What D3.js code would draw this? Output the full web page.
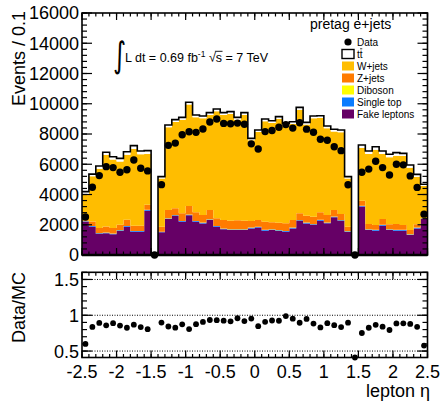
<!DOCTYPE html>
<html><head><meta charset="utf-8">
<script src="https://cdn.jsdelivr.net/npm/d3@7"></script>
<style>body{margin:0;background:#fff} svg{display:block}</style>
</head><body>
<svg id="c" width="442" height="405"></svg>
<script>
// ---- data (50 bins of lepton eta, width 0.1, from -2.5 to 2.5) ----
const etaEdges = d3.range(51).map(i => +(-2.5 + 0.1 * i).toFixed(2));
const fakeLeptons = [2200,1870,1390,1430,1370,1590,1870,1540,1540,2930, 0,
  1500,2380,2580,2200,2620,2200,2090,2310,1870,1700,1650,1650,1650,1760,1810,1610,1650,1590,1540,1760,2250,2090,1985,2270,2095,2490,2250,1540,
  20, 3200,1650,1610,1940,1650,1610,1610,1320,1760,2380];
const singleTop = [25,40,40,40,40,40,40,40,40,40, 0,
  30,40,40,40,40,40,40,40,40,40,40,40,40,40,40,40,40,40,40,40,40,40,40,40,40,40,40,30,
  0, 40,40,40,40,40,40,40,40,40,25];
const diboson = [10,15,15,15,15,15,15,15,15,15, 0,
  15,15,15,15,15,15,15,15,15,15,15,15,15,15,15,15,15,15,15,15,15,15,15,15,15,15,15,15,
  0, 15,15,15,15,15,15,15,15,15,10];
const zJets = [60,290,340,400,360,350,400,340,340,330, 0,
  315,540,450,500,565,565,500,610,500,560,565,595,565,435,450,540,455,495,500,500,450,455,495,495,495,430,405,275,
  0, 335,345,320,385,325,385,320,275,215,35];
const wJets = [1745,2985,3915,4725,4535,4195,4305,5075,4725,3365, 0,
  3200,5475,5715,6195,6710,6290,6395,6285,7075,6945,7060,6650,6990,5330,5810,6635,6570,6860,6475,6345,6855,6020,6505,6240,5735,5185,5405,3200,
  30, 3480,4630,4975,4300,4430,4520,4555,4120,3150,2110];
const ttbar = [150,150,180,180,180,200,200,220,220,220, 0,
  120,150,150,150,150,150,150,150,150,150,150,150,150,130,140,150,150,150,150,150,150,150,150,150,150,150,150,120,
  0, 200,200,200,200,200,200,180,180,150,120];
const dataCounts = [2510,4480,5250,5840,5780,5470,5640,6280,5740,5560, 0,
  4650,7250,7400,7950,8150,8110,8330,8790,8990,8700,8680,8720,8640,7350,7010,8160,8230,8450,8620,8390,8740,8320,8120,7650,7590,7160,6900,4640,
  0, 5470,5680,6200,5780,5290,6000,5960,5230,4470,2700];
const yTicks = [0,2000,4000,6000,8000,10000,12000,14000,16000];
const ratioTicks = [0.5,1,1.5];
const xTicks = [-2.5,-2,-1.5,-1,-0.5,0,0.5,1,1.5,2,2.5];
const xTickLabels = ["-2.5","-2","-1.5","-1","-0.5","0","0.5","1","1.5","2","2.5"];

const components = [
  {key:'fake', label:'Fake leptons', vals:fakeLeptons, color:'#660066'},
  {key:'st', label:'Single top', vals:singleTop, color:'#0a7cff'},
  {key:'db', label:'Diboson', vals:diboson, color:'#ffff00'},
  {key:'z', label:'Z+jets', vals:zJets, color:'#ff7b00'},
  {key:'w', label:'W+jets', vals:wJets, color:'#ffbd00'},
  {key:'tt', label:'tt', vals:ttbar, color:'#ffffff'}
];

const FONT = "'Liberation Sans', Arial, Helvetica, sans-serif";
const svg = d3.select('#c');
const X0 = 82, X1 = 427.5;
const x = d3.scaleLinear().domain([-2.5, 2.5]).range([X0, X1]);
const y = d3.scaleLinear().domain([0, 16000]).range([255, 13]);
const yr = d3.scaleLinear().domain([0.41, 1.6]).range([357.5, 272.3]);

const rows = etaEdges.slice(0, 50).map((e, i) => {
  const o = {lo: e, hi: etaEdges[i + 1], data: dataCounts[i]};
  components.forEach(c => o[c.key] = c.vals[i]);
  o.total = components.reduce((s, c) => s + c.vals[i], 0);
  return o;
});

const stack = d3.stack().keys(components.map(c => c.key))(rows);
const area = d3.area()
  .x((d, i) => x(etaEdges[i]))
  .y0(d => y(d[0])).y1(d => y(d[1]))
  .curve(d3.curveStepAfter);

const gMain = svg.append('g');
stack.forEach((layer, li) => {
  const pts = layer.map(d => [d[0], d[1]]);
  pts.push(pts[pts.length - 1]);
  gMain.append('path').attr('d', area(pts))
    .attr('fill', components[li].color).attr('stroke', 'none');
});
// total outline
const totPts = rows.map(r => r.total); totPts.push(totPts[totPts.length - 1]);
const line = d3.line().x((d, i) => x(etaEdges[i])).y(d => y(d)).curve(d3.curveStepAfter);
gMain.append('path').attr('d', line(totPts)).attr('fill', 'none')
  .attr('stroke', '#000').attr('stroke-width', 1.6);

// ---- ticks helper ----
function vTicks(g, scale, vals, xPos, len) {
  vals.forEach(v => g.append('line').attr('x1', xPos).attr('x2', xPos + len)
    .attr('y1', scale(v)).attr('y2', scale(v)).attr('stroke', '#000').attr('stroke-width', 1.2));
}
function hTicks(g, vals, yPos, len) {
  vals.forEach(v => g.append('line').attr('x1', x(v)).attr('x2', x(v))
    .attr('y1', yPos).attr('y2', yPos + len).attr('stroke', '#000').attr('stroke-width', 1.2));
}
const xMinor = d3.range(51).map(i => -2.5 + 0.1 * i);
const yMinor = d3.range(41).map(i => i * 400);

// main axes ticks
vTicks(gMain, y, yMinor, X0, 5);
vTicks(gMain, y, yTicks, X0, 10);
vTicks(gMain, y, yMinor, X1, -5);
vTicks(gMain, y, yTicks, X1, -10);
hTicks(gMain, xMinor, 255, -3.5);
hTicks(gMain, xTicks, 255, -7);
hTicks(gMain, xMinor, 13, 3.5);
hTicks(gMain, xTicks, 13, 7);
gMain.append('rect').attr('x', X0).attr('y', 13).attr('width', X1 - X0).attr('height', 242)
  .attr('fill', 'none').attr('stroke', '#000').attr('stroke-width', 1.6);
gMain.append('line').attr('x1', X0).attr('x2', X1).attr('y1', 255).attr('y2', 255)
  .attr('stroke', '#000').attr('stroke-width', 2.6);

// data points
gMain.selectAll('circle.d').data(rows).enter().append('circle')
  .attr('cx', d => x((d.lo + d.hi) / 2)).attr('cy', d => y(d.data)).attr('r', 3.7).attr('fill', '#000');

// y labels
yTicks.forEach(v => gMain.append('text').attr('x', 79).attr('y', y(v)).attr('dy', '0.36em')
  .attr('text-anchor', 'end').attr('font-family', FONT).attr('font-size', 18).text(v));
svg.append('text').attr('transform', 'translate(25,11) rotate(-90)').attr('text-anchor', 'end')
  .attr('font-family', FONT).attr('font-size', 18).text('Events / 0.1');

// ---- ratio panel ----
const gR = svg.append('g');
ratioTicks.forEach(v => gR.append('line').attr('x1', X0).attr('x2', X1).attr('y1', yr(v)).attr('y2', yr(v))
  .attr('stroke', '#000').attr('stroke-width', 1).attr('stroke-dasharray', '1,1.5'));
const rMinor = d3.range(5, 17).map(i => i / 10);
vTicks(gR, yr, rMinor, X0, 5);
vTicks(gR, yr, ratioTicks, X0, 10);
vTicks(gR, yr, rMinor, X1, -5);
vTicks(gR, yr, ratioTicks, X1, -10);
hTicks(gR, xMinor, 357.5, -3.5);
hTicks(gR, xTicks, 357.5, -7);
hTicks(gR, xMinor, 272.3, 3.5);
hTicks(gR, xTicks, 272.3, 7);
gR.append('rect').attr('x', X0).attr('y', 272.3).attr('width', X1 - X0).attr('height', 357.5 - 272.3)
  .attr('fill', 'none').attr('stroke', '#000').attr('stroke-width', 1.6);
const ratioRows = rows.filter(r => r.total > 0);
gR.selectAll('circle.r').data(ratioRows).enter().append('circle')
  .attr('cx', d => x((d.lo + d.hi) / 2))
  .attr('cy', d => yr(Math.max(0.41, Math.min(1.6, d.data / d.total))))
  .attr('r', 2.9).attr('fill', '#000');
ratioTicks.forEach(v => gR.append('text').attr('x', 79).attr('y', yr(v)).attr('dy', '0.36em')
  .attr('text-anchor', 'end').attr('font-family', FONT).attr('font-size', 18).text(v));
xTicks.forEach((v, i) => gR.append('text').attr('x', x(v)).attr('y', 378)
  .attr('text-anchor', 'middle').attr('font-family', FONT).attr('font-size', 18).text(xTickLabels[i]));
svg.append('text').attr('x', 430).attr('y', 397).attr('text-anchor', 'end')
  .attr('font-family', FONT).attr('font-size', 18).text('lepton η');
svg.append('text').attr('transform', 'translate(25,272) rotate(-90)').attr('text-anchor', 'end')
  .attr('font-family', FONT).attr('font-size', 18).text('Data/MC');

// ---- annotation ----
svg.append('text').attr('transform', 'translate(113,66.5) scale(1,1.42)')
  .attr('font-family', "'DejaVu Sans', sans-serif").attr('font-size', 25).text('∫');
const ann = svg.append('text').attr('x', 125).attr('y', 61.5).attr('font-family', FONT).attr('font-size', 12.5);
ann.append('tspan').text('L dt = 0.69 fb');
ann.append('tspan').attr('font-size', 8.5).attr('dy', -5).text('-1');
ann.append('tspan').attr('dy', 5).text(' √');
ann.append('tspan').text('s');
ann.append('tspan').text(' = 7 TeV');
{
  const node = ann.node();
  const full = node.textContent;
  const si = full.indexOf('√') + 1;
  const s1 = node.getEndPositionOfChar(si).x;
  const r0 = node.getStartPositionOfChar(si - 1).x;
  svg.append('line').attr('x1', r0 + 6).attr('x2', s1 + 0.5).attr('y1', 51.3).attr('y2', 51.3)
    .attr('stroke', '#000').attr('stroke-width', 0.9);
}

// ---- legend ----
svg.append('text').attr('x', 310).attr('y', 28.5).attr('font-family', FONT).attr('font-size', 14).text('pretag e+jets');
const lg = svg.append('g');
const legendItems = [{label:'Data', type:'data'}].concat(components.slice().reverse().map(c => ({label:c.label, color:c.color, type:c.key})));
legendItems.forEach((it, i) => {
  const cy = 42 + 12 * i;
  if (it.type === 'data') {
    lg.append('circle').attr('cx', 348).attr('cy', cy).attr('r', 3.6).attr('fill', '#000');
  } else {
    lg.append('rect').attr('x', 342).attr('y', cy - 4.5).attr('width', 12).attr('height', 9)
      .attr('fill', it.color).attr('stroke', it.type === 'tt' ? '#000' : 'none').attr('stroke-width', 1.4);
  }
  const t = lg.append('text').attr('x', 357).attr('y', cy).attr('dy', '0.36em')
    .attr('font-family', FONT).attr('font-size', 10).text(it.label);
  if (it.type === 'tt') {
    const n = t.node();
    const a = n.getStartPositionOfChar(1).x, b = n.getEndPositionOfChar(1).x;
    lg.append('line').attr('x1', a + 0.3).attr('x2', b - 0.3).attr('y1', cy - 5.2).attr('y2', cy - 5.2)
      .attr('stroke', '#000').attr('stroke-width', 0.8);
  }
});
</script>
</body></html>
